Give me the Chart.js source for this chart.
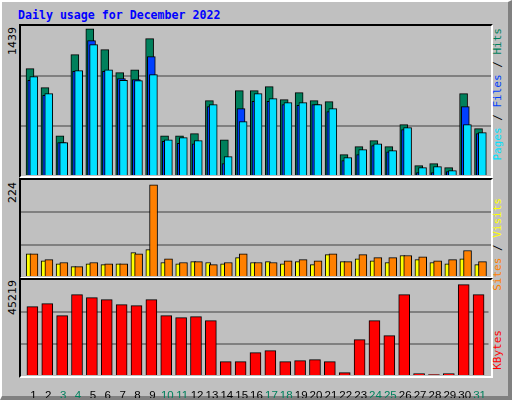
<!DOCTYPE html>
<html>
<head>
<meta charset="utf-8">
<script src="https://cdn.jsdelivr.net/npm/chart.js@4"></script>
<style>
  body { margin: 0; background: #c0c0c0; }
  #frame { position: relative; background: #c0c0c0;
    border-top: 2px solid #ffffff; border-left: 2px solid #ffffff;
    border-right: 4px solid #808080; border-bottom: 4px solid #808080; width: 506px; height: 394px; }
  .title { position: absolute; left: 16px; top: 6px; font: bold 11.6px "DejaVu Sans Mono", monospace; color: #0000ff; }
  .panel { position: absolute; left: 17px; width: 470px; border-top: 2px solid #000; border-left: 2px solid #000;
    border-right: 2px solid #fff; border-bottom: 2px solid #fff; }
  canvas { position: absolute; }
  .vt { position: absolute; writing-mode: vertical-rl; transform: rotate(180deg);
    font: 11px "DejaVu Sans Mono", monospace; white-space: nowrap; }
  .num { font-family: "DejaVu Sans", sans-serif; font-size: 11px; color: #000; }
</style>
</head>
<body>
<div id="frame"></div>
<script>
const days = Array.from({ length: 31 }, (_, i) => i + 1);
const weekends = [3, 4, 10, 11, 17, 18, 24, 25, 31];

const hits = [1047, 862, 393, 1184, 1437, 1233, 1008, 1037, 1340, 393, 393, 413, 735, 354, 833, 833, 872, 745, 813, 735, 725, 208, 286, 345, 286, 501, 101, 120, 81, 803, 462];
const files = [933, 787, 325, 1021, 1320, 1021, 950, 940, 1164, 338, 319, 315, 677, 120, 657, 729, 729, 696, 690, 696, 628, 150, 208, 296, 237, 452, 33, 33, 42, 677, 413];
const pages = [969, 803, 325, 1028, 1281, 1037, 933, 930, 989, 354, 374, 345, 696, 189, 530, 803, 755, 716, 716, 696, 657, 179, 257, 315, 247, 472, 81, 91, 52, 501, 423];
const visits = [56, 39, 32, 25, 32, 30, 32, 59, 66, 35, 32, 37, 35, 32, 47, 35, 37, 32, 37, 30, 54, 37, 44, 39, 35, 52, 42, 35, 32, 44, 30];
const sites = [56, 42, 35, 25, 35, 32, 32, 56, 223, 44, 35, 37, 30, 35, 56, 35, 35, 39, 42, 39, 56, 37, 54, 47, 47, 52, 49, 39, 42, 64, 37];
const kbytes = [34320, 35800, 29870, 40260, 38780, 37790, 35310, 34820, 37790, 29870, 28880, 29370, 27390, 7100, 7100, 11550, 12540, 7100, 7590, 8090, 7100, 1650, 17990, 27390, 19970, 40260, 1160, 660, 1160, 45219, 40260];

const maxHits = 1439, maxSites = 224, maxKb = 45219;

const frame = document.getElementById('frame');
frame.insertAdjacentHTML('beforeend', `
  <div class="title">Daily usage for December 2022</div>
  <div class="panel" style="top:22px;height:150px"></div>
  <div class="panel" style="top:176px;height:97px"></div>
  <div class="panel" style="top:276px;height:96px"></div>
  <div class="vt num" style="left:4px;top:25px">${maxHits}</div>
  <div class="vt num" style="left:4px;top:180px">${maxSites}</div>
  <div class="vt num" style="left:4px;top:278px">${maxKb}</div>
  <div class="vt" style="left:489px;top:26px"><span style="color:#00e0ff">Pages</span> / <span style="color:#0040ff">Files</span> / <span style="color:#00805c">Hits</span></div>
  <div class="vt" style="left:489px;top:196px"><span style="color:#ff8000">Sites</span> / <span style="color:#ffff00">Visits</span></div>
  <div class="vt" style="left:489px;top:328px;color:#ff0000">KBytes</div>
`);

function makeCanvas(top, h) {
  const c = document.createElement('canvas');
  c.style.left = '19px';
  c.style.top = top + 'px';
  c.style.width = '470px';
  c.style.height = h + 'px';
  frame.appendChild(c);
  return c;
}

function bars(values, off, width, color) {
  return {
    data: values.map((v, i) => ({ x: days[i] + off, y: v })),
    backgroundColor: color,
    borderColor: '#000',
    borderWidth: 1,
    borderSkipped: 'bottom',
    barThickness: width,
    grouped: false,
  };
}

function opts(yMax, showX) {
  return {
    responsive: false,
    animation: false,
    events: [],
    layout: { padding: 0 },
    plugins: { legend: { display: false }, tooltip: { enabled: false } },
    scales: {
      x: {
        type: 'linear', min: 0.164, max: 31.6,
        offset: false,
        display: showX,
        afterBuildTicks: s => { s.ticks = days.map(d => ({ value: d })); },
        afterFit: s => { if (showX) s.height = 22; },
        grid: { display: false },
        border: { display: false },
        ticks: {
          padding: 5,
          autoSkip: false,
          maxRotation: 0,
          font: { family: 'Liberation Sans', size: 11.5 },
          color: ctx => weekends.includes(ctx.tick.value) ? '#00805c' : '#000',
        },
      },
      y: {
        min: 0, max: yMax,
        afterBuildTicks: s => { s.ticks = [0, yMax / 3, yMax * 2 / 3, yMax].map(v => ({ value: v })); },
        afterFit: s => { s.width = 0; },
        ticks: { display: false },
        border: { display: false },
        grid: {
          drawTicks: false,
          lineWidth: 2,
          color: ctx => (ctx.index === 1 || ctx.index === 2) ? '#808080' : 'rgba(0,0,0,0)',
        },
      },
    },
  };
}

new Chart(makeCanvas(24, 150), {
  type: 'bar',
  data: { datasets: [
    bars(pages, 0.02, 8, '#00e0ff'),
    bars(files, -0.12, 8, '#0040ff'),
    bars(hits, -0.234, 8, '#00805c'),
  ] },
  options: opts(maxHits * 150 / 147.5, false),
});

new Chart(makeCanvas(178, 97), {
  type: 'bar',
  data: { datasets: [
    bars(sites, 0.03, 8, '#ff8000'),
    bars(visits, -0.32, 5, '#ffff00'),
  ] },
  options: opts(maxSites * 97 / 92.7, false),
});

new Chart(makeCanvas(278, 118), {
  type: 'bar',
  data: { datasets: [
    bars(kbytes, -0.07, 11, '#ff0000'),
  ] },
  options: opts(maxKb * 96 / 91.4, true),
});
</script>
</body>
</html>
